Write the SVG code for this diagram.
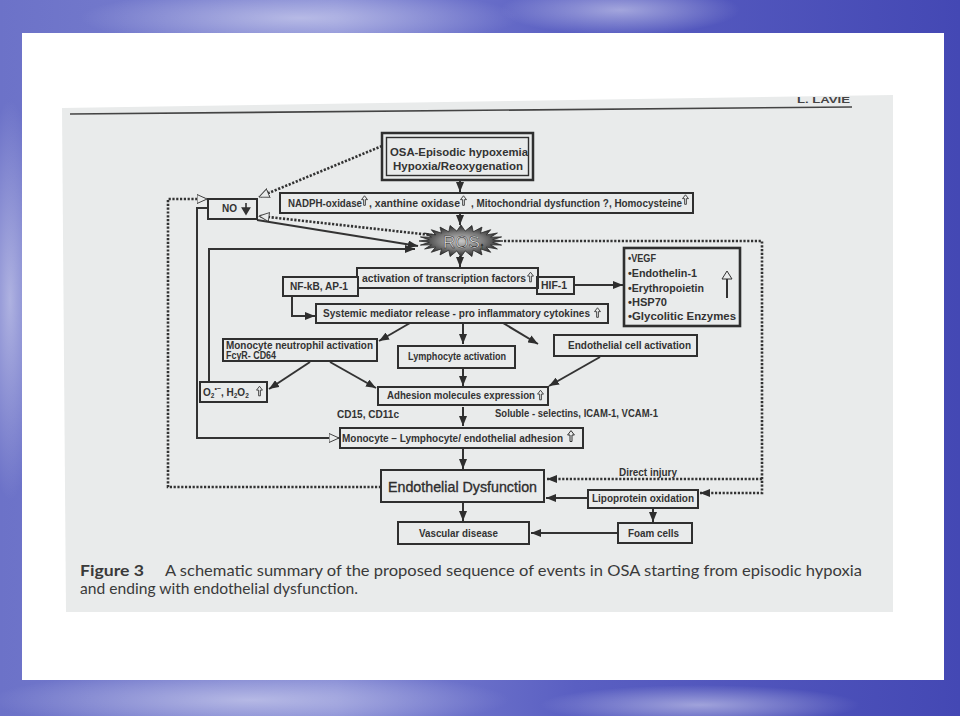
<svg xmlns="http://www.w3.org/2000/svg" width="960" height="716" viewBox="0 0 960 716">
<defs>
<linearGradient id="sky" x1="0" y1="0" x2="1" y2="0">
<stop offset="0" stop-color="#6c72c8"/>
<stop offset="0.35" stop-color="#7e84d2"/>
<stop offset="0.6" stop-color="#5a5fc2"/>
<stop offset="1" stop-color="#4448b4"/>
</linearGradient>
<radialGradient id="cloud" cx="0.5" cy="0.5" r="0.5">
<stop offset="0" stop-color="#ffffff" stop-opacity="0.45"/>
<stop offset="1" stop-color="#ffffff" stop-opacity="0"/>
</radialGradient>
<radialGradient id="burst" cx="0.5" cy="0.5" r="0.5">
<stop offset="0" stop-color="#c8c8c8"/>
<stop offset="0.55" stop-color="#7a7a7a"/>
<stop offset="1" stop-color="#262626"/>
</radialGradient>
<marker id="fa" viewBox="0 0 10 8" refX="10" refY="4" markerWidth="10" markerHeight="8" markerUnits="userSpaceOnUse" orient="auto">
<path d="M0,0 L10,4 L0,8 z" fill="#2e2e2e"/>
</marker>
<marker id="oa" viewBox="0 0 11 10" refX="10.5" refY="5" markerWidth="11" markerHeight="10" markerUnits="userSpaceOnUse" orient="auto">
<path d="M0.5,0.5 L10.5,5 L0.5,9.5 z" fill="#e9ebeb" stroke="#444" stroke-width="1"/>
</marker>
<symbol id="up" viewBox="0 0 8 12">
<path d="M4,0.6 L7.4,5 L5,5 L5,11.5 L3,11.5 L3,5 L0.6,5 Z" fill="none" stroke="#333" stroke-width="1"/>
</symbol>
<style>
.bx{fill:none;stroke:#2f2f2f;stroke-width:2}
.t{font-family:"Liberation Sans",Arial,sans-serif;font-weight:bold;fill:#333;font-size:10px}
.ln{fill:none;stroke:#333;stroke-width:2}
.dt{fill:none;stroke:#333;stroke-width:2.6;stroke-dasharray:2.2 1.6}
.cap{font-family:Lato,"Open Sans","Liberation Sans",sans-serif;fill:#3a3a3a;font-size:16px}
</style>
</defs>

<!-- slide background -->
<rect x="0" y="0" width="960" height="716" fill="url(#sky)"/>
<ellipse cx="300" cy="18" rx="220" ry="30" fill="url(#cloud)"/>
<ellipse cx="620" cy="10" rx="120" ry="25" fill="url(#cloud)"/>
<ellipse cx="10" cy="300" rx="30" ry="200" fill="url(#cloud)"/>
<ellipse cx="250" cy="700" rx="260" ry="30" fill="url(#cloud)"/>
<ellipse cx="700" cy="705" rx="160" ry="20" fill="url(#cloud)"/>
<rect x="22" y="33" width="922" height="647" fill="#ffffff"/>

<!-- scanned page -->
<polygon points="62,108 893,95 893,612 66,612" fill="#e9ebeb"/>
<line x1="70" y1="114" x2="852" y2="107" stroke="#444" stroke-width="1.6"/>
<text x="797" y="103" font-family="'Liberation Sans',Arial,sans-serif" font-size="9" font-weight="bold" fill="#444" textLength="53" lengthAdjust="spacingAndGlyphs">L. LAVIE</text>

<!-- connectors -->
<g id="connectors">
<line class="ln" x1="460" y1="180" x2="460" y2="192" marker-end="url(#fa)"/>
<line class="ln" x1="460" y1="213" x2="460" y2="225" marker-end="url(#fa)"/>
<line class="ln" x1="460" y1="256" x2="460" y2="267" marker-end="url(#fa)"/>
<path class="dt" d="M382,146 L259,197" marker-end="url(#oa)"/>
<path class="dt" d="M440,236 L259,216" marker-end="url(#oa)"/>
<path class="ln" d="M257,220 L418,246" marker-end="url(#fa)"/>
<path class="ln" d="M209,382 L209,249 L415,249" marker-end="url(#fa)"/>
<path class="ln" d="M208,208 L197,208 L197,438 L339,438" marker-end="url(#oa)"/>
<path class="dt" d="M381,487 L168,487 L168,199 L207,199" marker-end="url(#oa)"/>
<path class="dt" d="M504,241 L762,241 L762,493 L700,493" marker-end="url(#fa)"/>
<path class="dt" d="M762,479 L547,479" marker-end="url(#fa)"/>
<line class="ln" x1="574" y1="285" x2="623" y2="285" marker-end="url(#fa)"/>
<path class="ln" d="M292,296 L292,316 L315,316" marker-end="url(#fa)"/>
<line class="ln" x1="410" y1="323" x2="379" y2="341" marker-end="url(#fa)"/>
<line class="ln" x1="463" y1="323" x2="463" y2="344" marker-end="url(#fa)"/>
<line class="ln" x1="503" y1="323" x2="538" y2="344" marker-end="url(#fa)"/>
<line class="ln" x1="310" y1="362" x2="269" y2="389" marker-end="url(#fa)"/>
<line class="ln" x1="330" y1="362" x2="376" y2="388" marker-end="url(#fa)"/>
<line class="ln" x1="463" y1="368" x2="463" y2="386" marker-end="url(#fa)"/>
<line class="ln" x1="600" y1="357" x2="549" y2="386" marker-end="url(#fa)"/>
<line class="ln" x1="463" y1="407" x2="463" y2="426" marker-end="url(#fa)"/>
<line class="ln" x1="463" y1="449" x2="463" y2="469" marker-end="url(#fa)"/>
<line class="ln" x1="463" y1="503" x2="463" y2="521" marker-end="url(#fa)"/>
<line class="ln" x1="588" y1="498" x2="546" y2="498" marker-end="url(#fa)"/>
<line class="ln" x1="653" y1="508" x2="653" y2="522" marker-end="url(#fa)"/>
<line class="ln" x1="618" y1="533" x2="531" y2="533" marker-end="url(#fa)"/>
</g>

<!-- nodes -->
<g id="osa">
<rect x="382" y="133" width="151" height="47" fill="#e9ebeb" stroke="#2f2f2f" stroke-width="2.5"/>
<rect x="386.5" y="137.5" width="142" height="38" fill="none" stroke="#2f2f2f" stroke-width="1.4"/>
<text class="t" x="390" y="156" font-size="11.5" textLength="138" lengthAdjust="spacingAndGlyphs">OSA-Episodic hypoxemia</text>
<text class="t" x="393" y="170" font-size="11.5" textLength="130" lengthAdjust="spacingAndGlyphs">Hypoxia/Reoxygenation</text>
</g>

<g id="nadph">
<rect class="bx" x="280" y="193" width="413" height="20"/>
<text class="t" x="288" y="207" font-size="9.5" textLength="74" lengthAdjust="spacingAndGlyphs">NADPH-oxidase</text>
<use href="#up" x="361" y="195" width="7" height="11"/>
<text class="t" x="369" y="207" font-size="9.5" textLength="91" lengthAdjust="spacingAndGlyphs">, xanthine oxidase</text>
<use href="#up" x="460" y="195" width="7" height="11"/>
<text class="t" x="471" y="207" font-size="9.5" textLength="211" lengthAdjust="spacingAndGlyphs">, Mitochondrial dysfunction ?, Homocysteine</text>
<use href="#up" x="682" y="194" width="7" height="11"/>
</g>

<g id="no">
<rect class="bx" x="208" y="199" width="49" height="20"/>
<text class="t" x="222" y="212" font-size="9.5">NO</text>
<path d="M246,203 L246,209 M242.5,208 L246,214 L249.5,208 Z" fill="#333" stroke="#333" stroke-width="1.6"/>
</g>

<g id="ros">
<polygon fill="url(#burst)" stroke="#2a2a2a" stroke-width="0.8" points="503,241 492.7,242.3 501.6,245.1 490.6,244.8 497.4,249 486.4,247.1 490.7,252.3 480.5,248.9 482,254.9 473.2,250.2 471.9,256.5 465.2,250.9 461,257 456.8,250.9 450.1,256.5 448.8,250.2 440,254.9 441.5,248.9 431.3,252.3 435.6,247.1 424.6,249 431.4,244.8 420.4,245.1 429.3,242.3 419,241 429.3,239.7 420.4,236.9 431.4,237.2 424.6,233 435.6,234.9 431.3,229.7 441.5,233.1 440,227.1 448.8,231.8 450.1,225.5 456.8,231.1 461,225 465.2,231.1 471.9,225.5 473.2,231.8 482,227.1 480.5,233.1 490.7,229.7 486.4,234.9 497.4,233 490.6,237.2 501.6,236.9 492.7,239.7"/>
<text x="443" y="247.5" font-family="'Liberation Sans',Arial,sans-serif" font-size="17" fill="#ececec" stroke="#222" stroke-width="0.5">ROS<tspan font-size="9" dy="1">↑</tspan></text>
</g>

<g id="transcription">
<rect class="bx" x="357" y="268" width="181" height="20"/>
<text class="t" x="362" y="282" font-size="9.5" textLength="164" lengthAdjust="spacingAndGlyphs">activation of transcription factors</text>
<use href="#up" x="527" y="271" width="7" height="12"/>
</g>

<g id="nfkb">
<rect x="283" y="277" width="75" height="19" fill="#e9ebeb" stroke="#2f2f2f" stroke-width="2"/>
<text class="t" x="290" y="290" font-size="9.5" textLength="58" lengthAdjust="spacingAndGlyphs">NF-kB, AP-1</text>
</g>

<g id="hif">
<rect class="bx" x="537" y="277" width="37" height="17"/>
<text class="t" x="541" y="289" font-size="9.5" textLength="26" lengthAdjust="spacingAndGlyphs">HIF-1</text>
</g>

<g id="vegf">
<rect x="624" y="248" width="116" height="78" fill="none" stroke="#2f2f2f" stroke-width="2.6"/>
<text class="t" x="628" y="262" font-size="10.5" textLength="28" lengthAdjust="spacingAndGlyphs">•VEGF</text>
<text class="t" x="628" y="277" font-size="10.5" textLength="69" lengthAdjust="spacingAndGlyphs">•Endothelin-1</text>
<text class="t" x="628" y="292" font-size="10.5" textLength="76" lengthAdjust="spacingAndGlyphs">•Erythropoietin</text>
<text class="t" x="628" y="306" font-size="10.5" textLength="39" lengthAdjust="spacingAndGlyphs">•HSP70</text>
<text class="t" x="628" y="320" font-size="10.5" textLength="108" lengthAdjust="spacingAndGlyphs">•Glycolitic Enzymes</text>
<line x1="727" y1="298" x2="727" y2="278" stroke="#333" stroke-width="2"/>
<path d="M722,279 L727,271 L732,279 Z" fill="#e9ebeb" stroke="#333" stroke-width="1"/>
</g>

<g id="systemic">
<rect class="bx" x="316" y="304" width="292" height="19"/>
<text class="t" x="323" y="317" font-size="9.5" textLength="267" lengthAdjust="spacingAndGlyphs">Systemic mediator release - pro inflammatory cytokines</text>
<use href="#up" x="594" y="307" width="7" height="11"/>
</g>

<g id="monocyte">
<rect class="bx" x="223" y="339" width="154" height="22"/>
<text class="t" x="226" y="348.5" font-size="9" textLength="147" lengthAdjust="spacingAndGlyphs">Monocyte neutrophil  activation</text>
<text class="t" x="226" y="358.5" font-size="9" textLength="50" lengthAdjust="spacingAndGlyphs">FcγR- CD64</text>
</g>

<g id="lymphocyte">
<rect class="bx" x="398" y="346" width="117" height="22"/>
<text class="t" x="408" y="360" font-size="9.5" textLength="98" lengthAdjust="spacingAndGlyphs">Lymphocyte activation</text>
</g>

<g id="endocell">
<rect class="bx" x="554" y="335" width="143" height="21"/>
<text class="t" x="568" y="349" font-size="9.5" textLength="123" lengthAdjust="spacingAndGlyphs">Endothelial cell activation</text>
</g>

<g id="o2">
<rect class="bx" x="200" y="382" width="67" height="20"/>
<text class="t" x="203" y="396" font-size="9">O<tspan font-size="6.5" dy="2">2</tspan><tspan font-size="7" dy="-7">•−</tspan><tspan dy="5">,  H</tspan><tspan font-size="6.5" dy="2">2</tspan><tspan dy="-2">O</tspan><tspan font-size="6.5" dy="2">2</tspan></text>
<use href="#up" x="256" y="385" width="7" height="12"/>
</g>

<g id="adhesion">
<rect class="bx" x="378" y="387" width="170" height="18"/>
<text class="t" x="387" y="399" font-size="9.5" textLength="148" lengthAdjust="spacingAndGlyphs">Adhesion molecules expression</text>
<use href="#up" x="537" y="389" width="7" height="12"/>
</g>

<g id="labels">
<text class="t" x="337" y="418" font-size="9.5" font-weight="normal" textLength="62" lengthAdjust="spacingAndGlyphs">CD15, CD11c</text>
<text class="t" x="495" y="417" font-size="9.5" font-weight="normal" textLength="163" lengthAdjust="spacingAndGlyphs">Soluble - selectins, ICAM-1, VCAM-1</text>
<text class="t" x="619" y="476" font-size="9.5" textLength="58" lengthAdjust="spacingAndGlyphs">Direct injury</text>
</g>

<g id="adhesion2">
<rect class="bx" x="340" y="428" width="243" height="20"/>
<text class="t" x="342" y="442" font-size="9.5" textLength="221" lengthAdjust="spacingAndGlyphs">Monocyte – Lymphocyte/ endothelial adhesion</text>
<use href="#up" x="567" y="430" width="8" height="12"/>
</g>

<g id="dysfunction">
<rect class="bx" x="381" y="470" width="163" height="32"/>
<text x="388" y="492" font-family="'Liberation Sans',Arial,sans-serif" font-size="15.5" fill="#2e2e2e" stroke="#2e2e2e" stroke-width="0.35" textLength="149" lengthAdjust="spacingAndGlyphs">Endothelial Dysfunction</text>
</g>

<g id="lipoprotein">
<rect class="bx" x="588" y="490" width="110" height="18"/>
<text class="t" x="592" y="502" font-size="9.5" textLength="102" lengthAdjust="spacingAndGlyphs">Lipoprotein oxidation</text>
</g>

<g id="foam">
<rect class="bx" x="618" y="523" width="74" height="20"/>
<text class="t" x="628" y="537" font-size="9.5" textLength="51" lengthAdjust="spacingAndGlyphs">Foam cells</text>
</g>

<g id="vascular">
<rect class="bx" x="398" y="522" width="131" height="22"/>
<text class="t" x="419" y="537" font-size="9.5" textLength="79" lengthAdjust="spacingAndGlyphs">Vascular disease</text>
</g>

<!-- caption -->
<text class="cap" x="80" y="576" font-weight="bold" textLength="64" lengthAdjust="spacingAndGlyphs">Figure 3</text>
<text class="cap" x="165" y="576" textLength="697" lengthAdjust="spacingAndGlyphs">A schematic summary of the proposed sequence of events in OSA starting from episodic hypoxia</text>
<text class="cap" x="80" y="594" textLength="278" lengthAdjust="spacingAndGlyphs">and ending with endothelial dysfunction.</text>
</svg>
